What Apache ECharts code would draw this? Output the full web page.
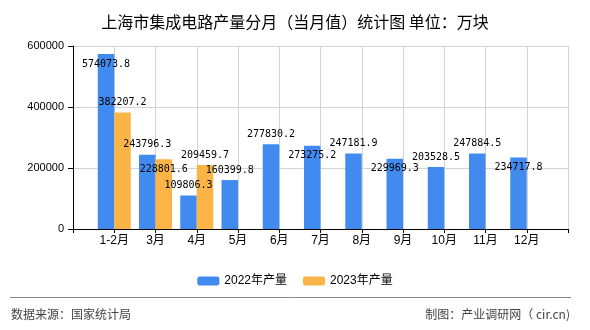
<!DOCTYPE html>
<html>
<head>
<meta charset="utf-8">
<script src="https://cdn.jsdelivr.net/npm/echarts@6/dist/echarts.min.js"></script>
<style>
html,body{margin:0;padding:0;background:#fff;}
#chart{width:590px;height:330px;}
</style>
</head>
<body>
<div id="chart"></div>
<script>
const titleText = '上海市集成电路产量分月（当月值）统计图 单位：万块';
const months = ['1-2月','3月','4月','5月','6月','7月','8月','9月','10月','11月','12月'];
const series2022 = [574073.8, 243796.3, 109806.3, 160399.8, 277830.2, 273275.2, 247181.9, 229969.3, 203528.5, 247884.5, 234717.8];
const series2023 = [382207.2, 228801.6, 209459.7, null, null, null, null, null, null, null, null];
const yTicks = [0, 200000, 400000, 600000];
const legendNames = ['2022年产量', '2023年产量'];
const sourceText = '数据来源：国家统计局';
const creditText = '制图：产业调研网（ cir.cn)';

// label placement styles (not data)
const pos2022 = ['insideTop','top','top','top','top','insideTop','top','insideTop','top','top','insideTop'];
const pos2023 = ['top','insideTop','top'];

const cats = [''].concat(months, ['']);
function build(values, posArr) {
  const out = [null];
  values.forEach((v, i) => {
    if (v == null) { out.push(null); return; }
    out.push({ value: v, label: { position: posArr[i] || 'top' } });
  });
  out.push(null);
  return out;
}

const chart = echarts.init(document.getElementById('chart'));
const labelStyle = {
  show: true,
  color: '#000',
  fontSize: 10,
  fontFamily: 'DejaVu Sans Mono',
  formatter: p => p.value == null ? '' : String(p.value)
};
chart.setOption({
  animation: false,
  backgroundColor: '#fff',
  title: {
    text: titleText,
    left: 'center',
    top: 9,
    textStyle: { fontSize: 16, fontWeight: 'normal', color: '#000', fontFamily: 'Noto Sans CJK SC' }
  },
  legend: {
    data: legendNames,
    top: 270,
    left: 'center',
    itemWidth: 22,
    itemHeight: 9,
    itemGap: 16,
    textStyle: { fontSize: 12, color: '#000', fontFamily: 'Liberation Sans, Noto Sans CJK SC' }
  },
  grid: { left: 73, right: 22, top: 46, bottom: 101 },
  xAxis: {
    type: 'category',
    data: cats,
    boundaryGap: false,
    axisLine: { lineStyle: { color: '#000' } },
    axisTick: { show: true, interval: 0, length: 4, lineStyle: { color: '#000' } },
    axisLabel: { interval: 0, color: '#000', fontSize: 12, margin: 6, fontFamily: 'Liberation Sans, Noto Sans CJK SC' },
    splitLine: { show: true, interval: 0, lineStyle: { color: '#d3d3d3' } }
  },
  yAxis: {
    type: 'value',
    min: yTicks[0],
    max: yTicks[yTicks.length - 1],
    interval: yTicks[1] - yTicks[0],
    axisLine: { show: true, lineStyle: { color: '#000' } },
    axisTick: { show: true, length: 5, lineStyle: { color: '#000' } },
    axisLabel: { color: '#000', fontSize: 11, margin: 9, fontFamily: 'Liberation Sans', formatter: v => String(v) },
    splitLine: { show: true, lineStyle: { color: '#d3d3d3' } }
  },
  series: [
    {
      name: legendNames[0],
      type: 'bar',
      data: build(series2022, pos2022),
      barWidth: '40%',
      barGap: '0%',
      itemStyle: { color: '#418BF0' },
      label: labelStyle
    },
    {
      name: legendNames[1],
      type: 'bar',
      data: build(series2023, pos2023),
      barWidth: '40%',
      barGap: '0%',
      itemStyle: { color: '#FBB446' },
      label: labelStyle
    }
  ],
  graphic: [
    { type: 'line', shape: { x1: 10, y1: 297.5, x2: 571, y2: 297.5 }, style: { stroke: '#888', lineWidth: 1 } },
    { type: 'text', left: 11, top: 308, style: { text: sourceText, fontSize: 12, fill: '#444', fontFamily: 'Noto Sans CJK SC' } },
    { type: 'text', right: 20, top: 308, style: { text: creditText, fontSize: 12, fill: '#444', fontFamily: 'Noto Sans CJK SC' } }
  ]
});
</script>
</body>
</html>
